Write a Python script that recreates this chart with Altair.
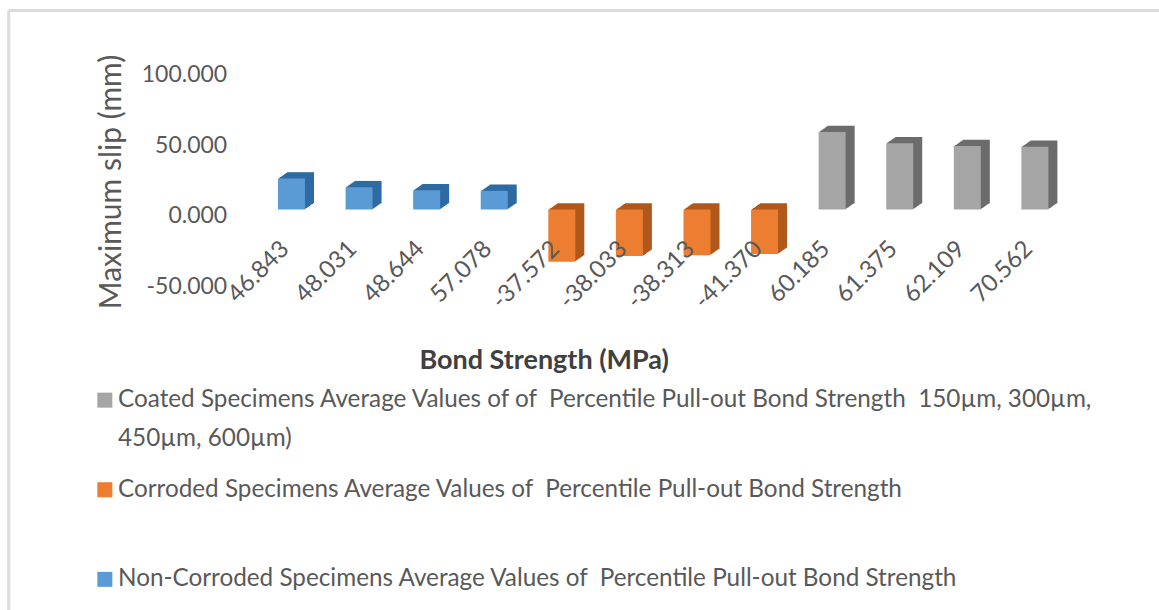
import altair as alt
import pandas as pd

labels = ["46.843", "48.031", "48.644", "57.078",
          "-37.572", "-38.033", "-38.313", "-41.370",
          "60.185", "61.375", "62.109", "70.562"]
slip = [22.0, 15.8, 13.6, 13.2,
        -37.0, -33.0, -32.4, -31.6,
        55.0, 47.0, 45.0, 44.5]
S_COATED = "Coated Specimens Average Values of of \u00a0Percentile Pull-out Bond Strength \u00a0150µm, 300µm,"
S_COATED_TAIL = ["450µm, 600µm)"]
S_CORRODED = "Corroded Specimens Average Values of \u00a0Percentile Pull-out Bond Strength"
S_PLAIN = "Non-Corroded Specimens Average Values of \u00a0Percentile Pull-out Bond Strength"
series = [S_PLAIN] * 4 + [S_CORRODED] * 4 + [S_COATED] * 4
legend_order = [S_COATED, S_CORRODED, S_PLAIN]
front_colors = ["#a5a5a5", "#ed7d31", "#5b9bd5"]
face_colors = {S_COATED: "#6c6c6c", S_CORRODED: "#b0591c", S_PLAIN: "#2f6ba3"}

df = pd.DataFrame({"label": labels, "slip": slip, "series": series})
df["face"] = df["series"].map(face_colors)

FONT = "Lato"
INK = "#595959"
BAR = 27
FRAME = "#dcdcdc"

x = alt.X("label:N", sort=labels, title="Bond Strength (MPa)",
          scale=alt.Scale(paddingInner=0.6, paddingOuter=0.3),
          axis=alt.Axis(labelAngle=-45, labelAlign="right", labelBaseline="middle",
                        labelFontSize=24, labelColor=INK, labelFont=FONT, labelPadding=0,
                        labelOverlap=False, labelFlush=False, domain=False, ticks=False,
                        labelOffset=-6, offset=-35, zindex=1, titleFont=FONT, titleFontSize=27,
                        titleFontWeight="bold", titleColor="#404040", titleX=286, titleY=116,
                        titleBaseline="middle"))
y = alt.Y("slip:Q", title="Maximum slip (mm)",
          scale=alt.Scale(domain=[-50, 100], nice=False),
          axis=alt.Axis(values=[-50, 0, 50, 100], format=".3f", grid=False, domain=False,
                        ticks=False, labelFontSize=23, labelColor=INK, labelFont=FONT,
                        labelExpr="replace(datum.label, '\u2212', '-')",
                        labelOffset=6, labelPadding=31, titleFont=FONT, titleFontSize=30,
                        titleFontWeight="normal", titleColor=INK, titleX=-146, titleY=113,
                        titleBaseline="middle"))

# Extrude each column up and to the right to give the solid look of the faces.
depth_layers = [
    alt.Chart(df).mark_bar(size=BAR, xOffset=k, yOffset=-k * 0.7, y2Offset=-k * 0.7).encode(
        x=x, y=y, y2=alt.Y2(datum=0), color=alt.Color("face:N", scale=None, legend=None))
    for k in range(9, 0, -1)
]
front = alt.Chart(df).mark_bar(size=BAR).encode(
    x=x, y=y, y2=alt.Y2(datum=0),
    color=alt.Color("series:N", scale=alt.Scale(domain=legend_order, range=front_colors),
                    legend=alt.Legend(
                        orient="none", legendX=-165, legendY=319.5, title=None, direction="vertical",
                        columns=1, symbolType="square", symbolSize=225, labelFontSize=24.3,
                        labelColor=INK, labelFont=FONT, labelLimit=1100, labelOffset=1,
                        rowPadding=64.6, gridAlign="all", symbolStrokeWidth=0)))

# Second line of the wrapped first legend entry.
tail = alt.Chart(pd.DataFrame({"text": S_COATED_TAIL})).mark_text(
    font=FONT, fontSize=24.3, color=INK, align="left", baseline="middle"
).encode(text="text:N", x=alt.value(-139.7), y=alt.value(370.5))

# Thin frame along the top and left edges of the chart area.
frame_top = alt.Chart(pd.DataFrame({"e": [0]})).mark_rule(color=FRAME, strokeWidth=3).encode(
    x=alt.value(-249), x2=alt.value(902), y=alt.value(-58))
frame_left = alt.Chart(pd.DataFrame({"e": [0]})).mark_rule(color=FRAME, strokeWidth=3).encode(
    x=alt.value(-249), y=alt.value(-58), y2=alt.value(542))

chart = alt.layer(frame_top, frame_left, *depth_layers, front, tail).resolve_scale(
    color="independent"
).properties(
    width=811, height=211.5,
    autosize=alt.AutoSizeParams(type="none"),
    padding={"left": 257.7, "top": 68.5, "right": 90, "bottom": 330},
    background="white",
).configure_view(stroke=None)

chart.save("out.html", embed_options={"renderer": "svg", "actions": False})
